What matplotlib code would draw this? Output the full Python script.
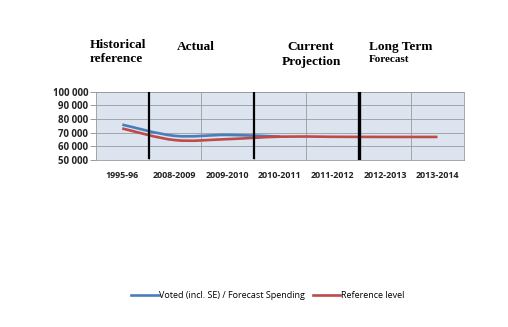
import matplotlib
matplotlib.use("Agg")
import matplotlib.pyplot as plt
from matplotlib.path import Path
from matplotlib.patches import PathPatch
from matplotlib.lines import Line2D

categories = ["1995-96", "2008-2009", "2009-2010", "2010-2011", "2011-2012", "2012-2013", "2013-2014"]
voted = [75800, 67600, 68300, 67000]
reference = [73000, 64500, 65200, 67000, 66900, 66800, 66800]
yticks = [50000, 60000, 70000, 80000, 90000, 100000]
ytick_labels = ["50 000", "60 000", "70 000", "80 000", "90 000", "100 000"]
series_names = ["Voted (incl. SE) / Forecast Spending", "Reference level"]
dividers = [0.5, 2.5, 4.5]

BLUE = "#4a7ebb"
RED = "#be4b48"
SANS = "Open Sans"


def smooth_path(xs, ys):
    pts = list(zip(xs, ys))
    verts = [pts[0]]
    codes = [Path.MOVETO]
    n = len(pts)
    for i in range(n - 1):
        p0 = pts[i - 1] if i > 0 else pts[i]
        p1 = pts[i]
        p2 = pts[i + 1]
        p3 = pts[i + 2] if i + 2 < n else pts[i + 1]
        c1 = (p1[0] + (p2[0] - p0[0]) / 6, p1[1] + (p2[1] - p0[1]) / 6)
        c2 = (p2[0] - (p3[0] - p1[0]) / 6, p2[1] - (p3[1] - p1[1]) / 6)
        verts += [c1, c2, p2]
        codes += [Path.CURVE4] * 3
    return Path(verts, codes)


fig = plt.figure(figsize=(5.08, 3.27), dpi=100)
ax = fig.add_axes([0.189, 0.511, 0.724, 0.209])
ax.set_facecolor("#dce4f0")
ax.set_xlim(-0.5, len(categories) - 0.5)
ax.set_ylim(50000, 100000)

ax.set_yticks(yticks)
ax.set_yticklabels(ytick_labels, fontsize=6.9, fontweight="bold", family=SANS, color="#222222")
ax.set_xticks(range(len(categories)))
ax.set_xticklabels(categories, fontsize=6.4, fontweight="bold", family=SANS, color="#222222")
ax.tick_params(axis="x", length=0, pad=8)
ax.tick_params(axis="y", length=4, width=0.6, color="#8c8c8c", pad=1.5)

ax.set_xticks([i + 0.5 for i in range(len(categories) - 1)], minor=True)
ax.grid(True, which="major", axis="y", color="#9a9a9a", linewidth=0.6)
ax.grid(True, which="minor", axis="x", color="#9a9a9a", linewidth=0.6)
ax.tick_params(axis="x", which="minor", length=0)
ax.set_axisbelow(True)
for s in ax.spines.values():
    s.set_color("#9a9a9a")
    s.set_linewidth(0.6)

ax.add_patch(PathPatch(smooth_path(list(range(len(voted))), voted), fill=False,
                       edgecolor=BLUE, linewidth=1.9, zorder=3))
ax.add_patch(PathPatch(smooth_path(list(range(len(reference))), reference), fill=False,
                       edgecolor=RED, linewidth=1.9, zorder=4))

for i, x in enumerate(dividers):
    ax.axvline(x, ymin=0.03 if i < 2 else 0.0, ymax=0.99 if i < 2 else 1.0,
               color="black", linewidth=1.6 if i < 2 else 2.4, zorder=5)

serif = "Liberation Serif"
def ftxt(xp, yp, s, size=9.6):
    fig.text(xp / 508, 1 - yp / 327, s, fontsize=size, fontweight="bold", family=serif,
             ha="left", va="baseline")

ftxt(90, 48, "Historical")
ftxt(90, 62, "reference")
ftxt(177, 50, "Actual")
ftxt(287, 50, "Current")
ftxt(282, 65, "Projection")
ftxt(369, 50, "Long Term")
ftxt(369, 62, "Forecast", size=8)

handles = [Line2D([], [], color=BLUE, linewidth=1.9), Line2D([], [], color=RED, linewidth=1.9)]
fig.legend(handles, series_names, loc="center", bbox_to_anchor=(0.527, 0.095), ncol=2,
           frameon=False, prop={"family": SANS, "size": 6.5}, handlelength=3.0,
           handletextpad=0.1, columnspacing=0.8)

fig.savefig("out.png", dpi=100)
